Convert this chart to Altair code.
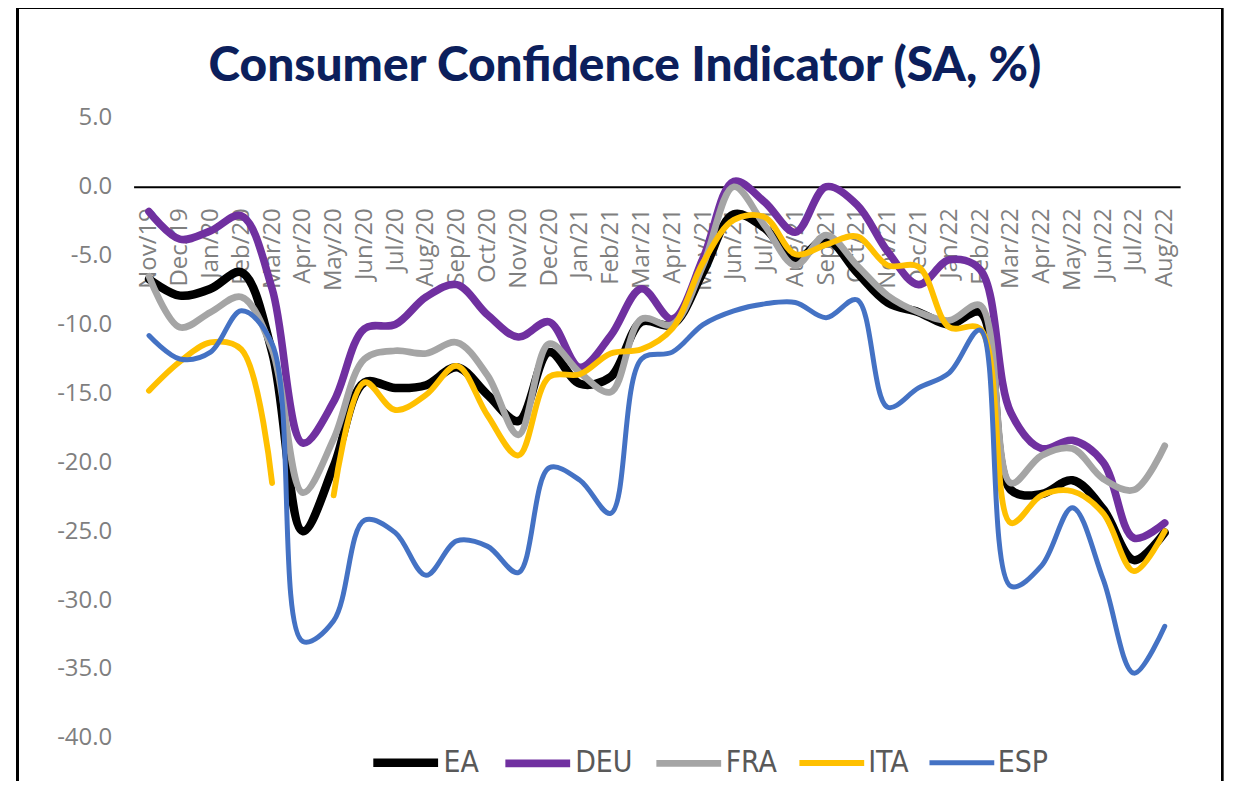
import altair as alt
import pandas as pd

months = ["Nov/19", "Dec/19", "Jan/20", "Feb/20", "Mar/20", "Apr/20", "May/20", "Jun/20",
          "Jul/20", "Aug/20", "Sep/20", "Oct/20", "Nov/20", "Dec/20", "Jan/21", "Feb/21",
          "Mar/21", "Apr/21", "May/21", "Jun/21", "Jul/21", "Aug/21", "Sep/21", "Oct/21",
          "Nov/21", "Dec/21", "Jan/22", "Feb/22", "Mar/22", "Apr/22", "May/22", "Jun/22",
          "Jul/22", "Aug/22"]

EA = [-6.7, -7.9, -7.4, -6.2, -12.0, -25.0, -20.3, -14.2, -14.6, -14.4, -13.1, -15.1,
      -17.0, -12.0, -14.3, -13.8, -9.8, -10.0, -6.2, -2.0, -3.0, -5.3, -3.8, -6.2,
      -8.4, -9.1, -10.0, -9.1, -22.0, -22.3, -21.3, -23.4, -27.1, -25.1]
DEU = [-1.8, -3.8, -3.2, -2.1, -7.4, -18.6, -15.6, -10.3, -10.0, -8.0, -7.1, -9.3,
       -10.9, -9.8, -13.1, -10.8, -7.4, -9.6, -5.2, 0.4, -1.1, -3.3, 0.0, -1.3,
       -4.7, -7.1, -5.3, -6.0, -16.4, -19.0, -18.4, -20.0, -25.5, -24.4]
FRA = [-6.5, -10.2, -9.1, -8.0, -11.8, -22.2, -18.3, -12.5, -11.9, -12.1, -11.3, -13.7,
       -18.0, -11.4, -13.5, -14.9, -9.6, -10.0, -5.7, 0.0, -2.8, -5.7, -3.5, -5.7,
       -7.9, -9.1, -9.7, -8.6, -21.5, -19.5, -19.0, -21.2, -22.0, -18.8]
ITA = [-14.8, -12.7, -11.3, -11.8, -21.5, None, -22.4, -14.2, -16.2, -15.1, -13.0, -16.6,
       -19.5, -13.8, -13.6, -12.1, -11.8, -10.3, -5.5, -2.4, -2.2, -4.9, -4.2, -3.6,
       -5.7, -5.8, -10.2, -10.3, -24.4, -22.4, -22.1, -23.7, -27.9, -25.0]
ESP = [-10.8, -12.5, -12.0, -9.0, -11.4, -33.0, -31.5, -24.2, -25.1, -28.2, -25.7, -26.1,
       -28.0, -20.4, -21.3, -23.7, -12.5, -12.0, -10.0, -9.0, -8.5, -8.4, -9.5, -8.2,
       -16.0, -14.6, -13.5, -10.4, -29.0, -27.5, -23.3, -28.5, -35.3, -31.9]

series_names = ["EA", "DEU", "FRA", "ITA", "ESP"]
series_colors = ["#000000", "#7030a0", "#a5a5a5", "#ffc000", "#4472c4"]
series_widths = [8.5, 5, 5, 5, 5]
y_ticks = [5, 0, -5, -10, -15, -20, -25, -30, -35, -40]

rows = []
for name, vals in zip(series_names, [EA, DEU, FRA, ITA, ESP]):
    for m, v in zip(months, vals):
        rows.append({"month": m, "series": name, "value": v})
df = pd.DataFrame(rows)

W, H = 1050, 622
LABEL_FONT = "Open Sans"
LEGEND_FONT = "Liberation Sans Narrow, DejaVu Sans Condensed"


def make_legend():
    return alt.Legend(orient="none", legendX=236, legendY=610,
                      direction="horizontal", title=None,
                      symbolType="stroke", symbolSize=4225, symbolStrokeWidth=5,
                      labelFontSize=30, labelFont=LEGEND_FONT,
                      labelColor="#595959", columnPadding=10,
                      labelOffset=1, padding=0)


lines = alt.Chart(df).mark_line(
    interpolate="catmull-rom", strokeCap="round", strokeJoin="round",
    invalid="break-paths-show-domains"
).encode(
    x=alt.X("month:O", sort=months,
            scale=alt.Scale(type="point", padding=0.5),
            axis=alt.Axis(title=None, orient="bottom", offset=-(H - H * 5 / 45),
                          labelAngle=270, labelFontSize=24, labelFont=LABEL_FONT,
                          labelColor="#7f7f7f", labelPadding=21, ticks=False,
                          domainColor="#000000", domainWidth=2)),
    y=alt.Y("value:Q", scale=alt.Scale(domain=[-40, 5], nice=False, zero=False),
            axis=alt.Axis(title=None, values=y_ticks, format=".1f", grid=False,
                          labelExpr="replace(datum.label, '\u2212', '-')",
                          domain=False, ticks=False, labelFontSize=24,
                          labelFont=LABEL_FONT, labelColor="#7f7f7f", labelPadding=22)),
    color=alt.Color("series:N", sort=series_names,
                    scale=alt.Scale(domain=series_names, range=series_colors),
                    legend=make_legend()),
    strokeWidth=alt.StrokeWidth("series:N", sort=series_names,
                                scale=alt.Scale(domain=series_names, range=series_widths),
                                legend=make_legend()),
)

frame_left = alt.Chart(df).mark_rule(color="#000000", strokeWidth=2).encode(
    x=alt.value(-116), y=alt.value(-111), y2=alt.value(700))
frame_right = alt.Chart(df).mark_rule(color="#000000", strokeWidth=2).encode(
    x=alt.value(1092), y=alt.value(-111), y2=alt.value(700))
frame_top = alt.Chart(df).mark_rule(color="#000000", strokeWidth=2).encode(
    x=alt.value(-116), x2=alt.value(1092), y=alt.value(-111))

chart = alt.layer(lines, frame_left, frame_right, frame_top).properties(
    width=W, height=H,
    autosize=alt.AutoSizeParams(type="none"),
    padding={"left": 126, "top": 109, "right": 45, "bottom": 42},
    title=alt.TitleParams("Consumer Confidence Indicator (SA, %)", font="Lato",
                          fontSize=48, fontWeight=900, color="#0c1f5c",
                          anchor="middle", dx=-32, offset=0, dy=85),
).configure_view(stroke=None)

chart.save("out.html", embed_options={"renderer": "svg", "actions": False})
